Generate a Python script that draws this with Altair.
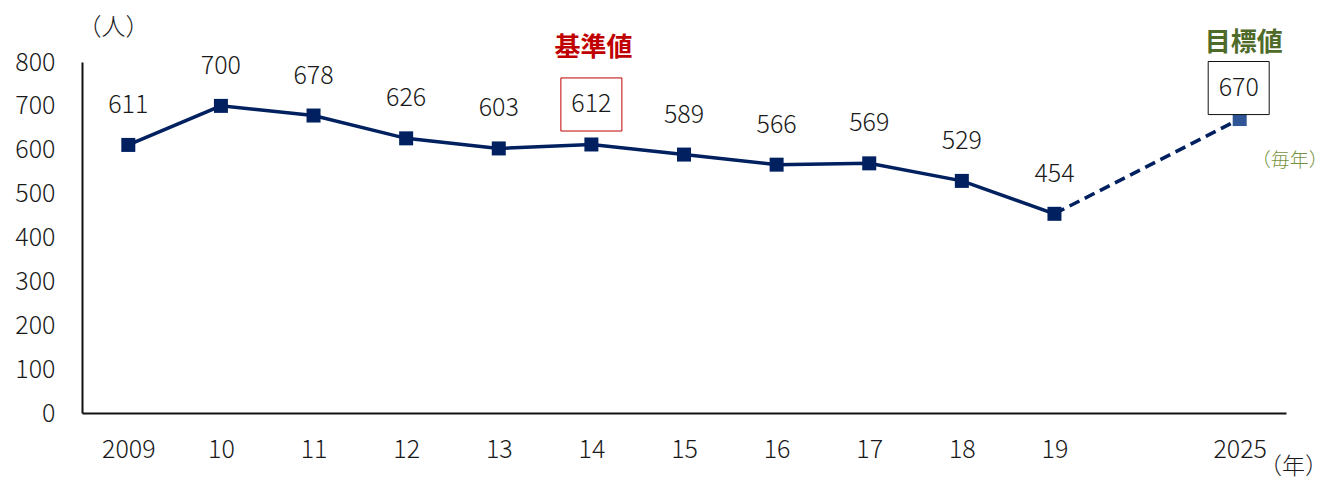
import altair as alt
import pandas as pd

categories = ["2009", "10", "11", "12", "13", "14", "15", "16", "17", "18", "19", "2025"]
values = [611, 700, 678, 626, 603, 612, 589, 566, 569, 529, 454, 670]
x_domain = categories[:11] + [" "] + ["2025"]
y_ticks = [0, 100, 200, 300, 400, 500, 600, 700, 800]

FONT = "Noto Sans CJK JP"
NAVY = "#002060"
TARGET_BLUE = "#2F5597"
TXT = "#1a1a1a"
FS = 25

df = pd.DataFrame({"cat": categories, "value": values})
actual = df.iloc[:11]
target_seg = df.iloc[10:12]
target_pt = df.iloc[11:12]
base_pt = df[df["cat"] == "14"]
plain_labels = df[~df["cat"].isin(["14", "2025"])]

x_enc = alt.X("cat:N", scale=alt.Scale(type="point", domain=x_domain, padding=0.5),
              axis=alt.Axis(title="（年）", titleX=1211, titleY=53, titleAngle=0,
                            titleAlign="center", titleBaseline="middle",
                            titleFontSize=23, titleFontWeight=300, titleFont=FONT,
                            titleColor=TXT,
                            labelAngle=0, labelFontSize=FS, labelFont=FONT, labelColor=TXT,
                            labelFontWeight=300,
                            labelPadding=24, ticks=False, domainColor="#111", domainWidth=2,
                            grid=False))
y_enc = alt.Y("value:Q", scale=alt.Scale(domain=[0, 800], nice=False),
              axis=alt.Axis(values=y_ticks, title="（人）", titleX=31, titleY=-35, titleAngle=0,
                            titleAlign="center", titleBaseline="middle",
                            titleFontSize=24, titleFontWeight=300, titleFont=FONT,
                            titleColor=TXT,
                            labelFontSize=FS, labelFont=FONT, labelColor=TXT, labelFontWeight=300,
                            labelPadding=27, ticks=False, domainColor="#111", domainWidth=2,
                            grid=False))

line_solid = alt.Chart(actual).mark_line(color=NAVY, strokeWidth=3.5).encode(x=x_enc, y=y_enc)
line_dash = alt.Chart(target_seg).mark_line(color=NAVY, strokeWidth=3.5, strokeDash=[11, 6]).encode(x=x_enc, y=y_enc)

pts = alt.Chart(actual).mark_point(shape="square", size=196, filled=True, color=NAVY, opacity=1).encode(x=x_enc, y=y_enc)
pt_target = alt.Chart(target_pt).mark_point(shape="square", size=196, filled=True, color=TARGET_BLUE, opacity=1).encode(x=x_enc, y=y_enc)

box_path = "M-1,-0.87L1,-0.87L1,0.87L-1,0.87Z"
box_base = alt.Chart(base_pt).mark_point(shape=box_path, size=3721, fill="white", fillOpacity=1,
                                          stroke="#C00000", strokeWidth=1, opacity=1, yOffset=-40).encode(x=x_enc, y=y_enc)
box_target = alt.Chart(target_pt).mark_point(shape=box_path, size=3721, fill="white", fillOpacity=1,
                                              stroke="#111", strokeWidth=1, opacity=1, yOffset=-31, xOffset=-1).encode(x=x_enc, y=y_enc)

lbl = alt.Chart(plain_labels).mark_text(font=FONT, fontSize=FS, fontWeight=300, color=TXT, baseline="middle", dy=-40).encode(
    x=x_enc, y=y_enc, text="value:Q")
lbl_base = alt.Chart(base_pt).mark_text(font=FONT, fontSize=FS, fontWeight=300, color=TXT, baseline="middle", dy=-40).encode(
    x=x_enc, y=y_enc, text="value:Q")
lbl_target = alt.Chart(target_pt).mark_text(font=FONT, fontSize=FS, fontWeight=300, color=TXT, baseline="middle", dy=-31, dx=-1).encode(
    x=x_enc, y=y_enc, text="value:Q")

ann_base = alt.Chart(base_pt).mark_text(font=FONT, fontSize=26, fontWeight="bold", color="#C00000",
                                        baseline="middle", dy=-96, dx=2).encode(x=x_enc, y=y_enc, text=alt.value("基準値"))
ann_target = alt.Chart(target_pt).mark_text(font=FONT, fontSize=26, fontWeight="bold", color="#4F6B2A",
                                            baseline="middle", dy=-76, dx=4).encode(x=x_enc, y=y_enc, text=alt.value("目標値"))
ann_each = alt.Chart(target_pt).mark_text(font=FONT, fontSize=19, fontWeight=300, color="#76923C",
                                          baseline="middle", dy=42, dx=50).encode(x=x_enc, y=y_enc, text=alt.value("（毎年）"))

chart = alt.layer(line_solid, line_dash, pts, pt_target, box_base, box_target,
                  lbl, lbl_base, lbl_target, ann_base, ann_target, ann_each).properties(
    width=1204, height=351,
    background="white",
    autosize=alt.AutoSizeParams(type="none"),
    padding={"left": 74, "top": 54, "right": 42, "bottom": 66},
).configure_view(strokeWidth=0)

chart.save("out.html", embed_options={"renderer": "svg", "actions": False})
